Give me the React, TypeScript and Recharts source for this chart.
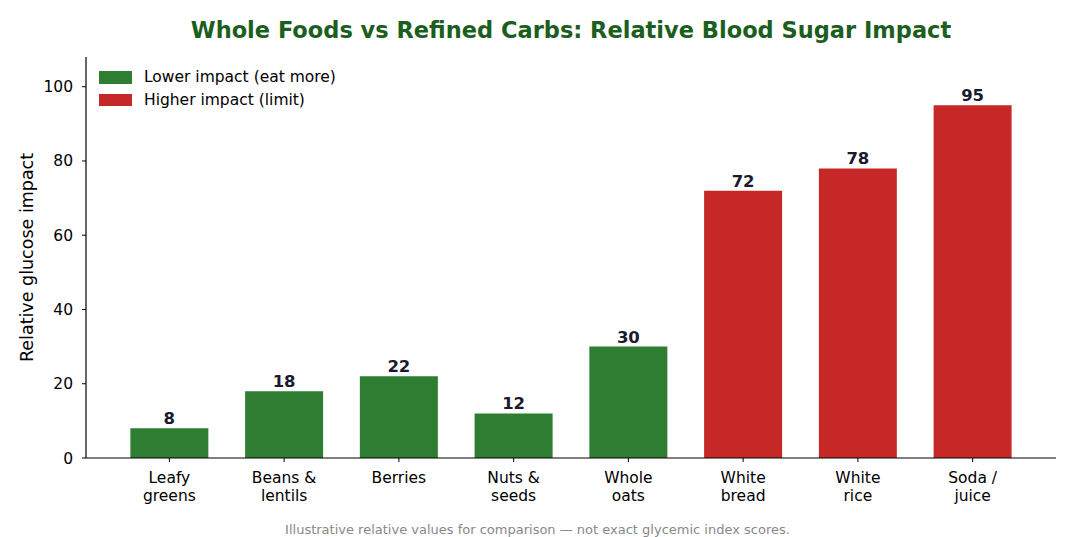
import React from "react";
import { BarChart, Bar, XAxis, YAxis, Cell, LabelList } from "recharts";

const categories = [
  "Leafy\ngreens",
  "Beans &\nlentils",
  "Berries",
  "Nuts &\nseeds",
  "Whole\noats",
  "White\nbread",
  "White\nrice",
  "Soda /\njuice",
];
const values = [8, 18, 22, 12, 30, 72, 78, 95];
const groups = ["low", "low", "low", "low", "low", "high", "high", "high"];
const yTicks = [0, 20, 40, 60, 80, 100];
const legendItems = [
  { key: "low", label: "Lower impact (eat more)" },
  { key: "high", label: "Higher impact (limit)" },
];

const COLORS: Record<string, string> = { low: "#2e7d32", high: "#c62828" };
const FONT = "'DejaVu Sans', sans-serif";

const data = categories.map((c, i) => ({ name: c, value: values[i], group: groups[i] }));

const XTick = (props: any) => {
  const { x, y, payload } = props;
  const lines = String(payload.value).split("\n");
  return (
    <g transform={`translate(${x},${y})`}>
      <text textAnchor="middle" fontSize={15.5} fontFamily={FONT} fill="#000">
        {lines.map((l, i) => (
          <tspan key={i} x={0} y={19 + i * 18}>
            {l}
          </tspan>
        ))}
      </text>
    </g>
  );
};

export default function App() {
  return (
    <div style={{ position: "absolute", left: 0, top: 0, width: 1075, height: 537, background: "#fff", fontFamily: FONT }}>
      <div
        style={{
          position: "absolute",
          left: 86,
          width: 970,
          top: 16,
          textAlign: "center",
          fontSize: 22.5,
          lineHeight: "28px",
          fontWeight: "bold",
          color: "#1b5e20",
          fontFamily: FONT,
        }}
      >
        Whole Foods vs Refined Carbs: Relative Blood Sugar Impact
      </div>
      <BarChart
        width={1075}
        height={537}
        data={data}
        margin={{ top: 57, right: 19, bottom: 39, left: 26 }}
        barCategoryGap="16%"
      >
        <XAxis
          dataKey="name"
          interval={0}
          height={40}
          padding={{ left: 26, right: 26 }}
          axisLine={{ stroke: "#000", strokeWidth: 1.2 }}
          tickLine={{ stroke: "#000" }}
          tickSize={4}
          tickMargin={2}
          tick={<XTick />}
        />
        <YAxis
          width={60}
          domain={[0, 108]}
          ticks={yTicks}
          allowDataOverflow
          axisLine={{ stroke: "#000", strokeWidth: 1.2 }}
          tickLine={{ stroke: "#000" }}
          tickSize={4}
          tickMargin={9}
          tick={{ fontSize: 15.5, fontFamily: FONT, fill: "#000" }}
          label={{
            value: "Relative glucose impact",
            angle: -90,
            position: "insideLeft",
            dx: -4,
            dy: 0,
            textAnchor: "middle",
            style: { fontSize: 17.5, fontFamily: FONT, fill: "#000", textAnchor: "middle" },
          }}
        />
        <Bar dataKey="value" isAnimationActive={false}>
          {data.map((d, i) => (
            <Cell key={i} fill={COLORS[d.group]} />
          ))}
          <LabelList
            dataKey="value"
            position="top"
            offset={4}
            style={{ fontSize: 16.5, fontWeight: "bold", fontFamily: FONT, fill: "#1a1a2e" }}
          />
        </Bar>
      </BarChart>
      <div style={{ position: "absolute", left: 99, top: 66 }}>
        {legendItems.map((it) => (
          <div key={it.key} style={{ display: "flex", alignItems: "center", height: 22.5 }}>
            <div style={{ width: 33, height: 12.5, background: COLORS[it.key], marginRight: 12 }} />
            <span style={{ fontSize: 15.5, fontFamily: FONT, color: "#000" }}>{it.label}</span>
          </div>
        ))}
      </div>
      <div
        style={{
          position: "absolute",
          left: 0,
          width: 1075,
          top: 522,
          textAlign: "center",
          fontSize: 13,
          lineHeight: "16px",
          color: "#888",
          fontFamily: FONT,
        }}
      >
        Illustrative relative values for comparison — not exact glycemic index scores.
      </div>
    </div>
  );
}
